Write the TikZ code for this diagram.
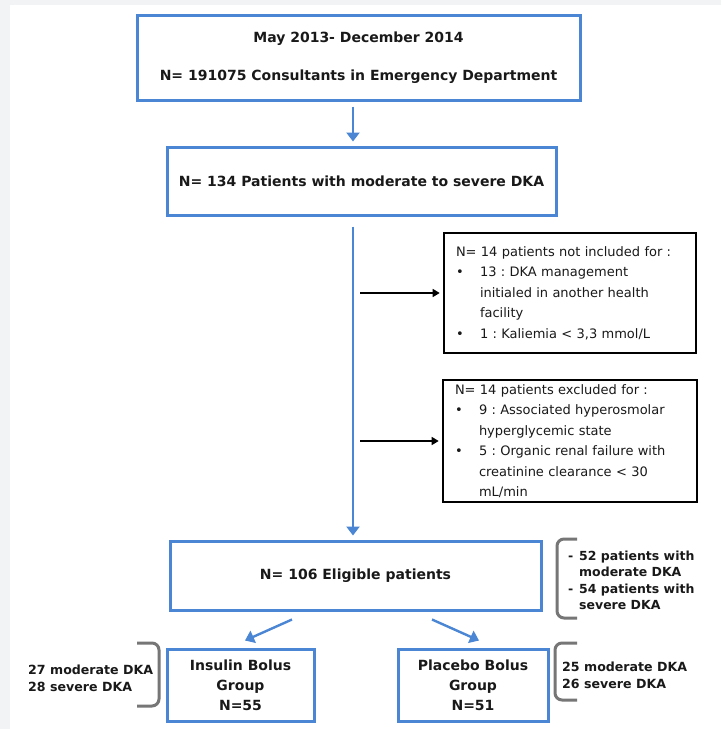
\documentclass[tikz,border=0pt]{standalone}
\usepackage{fontspec}
\setmainfont{DejaVu Sans}
\usetikzlibrary{positioning,arrows.meta}
\definecolor{flowblue}{RGB}{74,134,212}
\definecolor{bracegray}{RGB}{118,118,118}
\definecolor{pagegray}{RGB}{242,243,245}
\definecolor{inktext}{RGB}{25,25,25}
\frenchspacing

\tikzset{
  bluebox/.style={draw=flowblue, line width=3pt, align=center, text=inktext,
    font=\bfseries\fontsize{14}{20}\selectfont, inner sep=0pt},
  blackbox/.style={draw=black, line width=2.6pt, align=left, text=inktext,
    font=\fontsize{13}{20.5}\selectfont, inner xsep=12pt, inner ysep=0pt},
  bluearrow/.style={draw=flowblue, line width=2.4pt, -{Triangle[length=9pt,width=13pt]}},
  blackarrow/.style={draw=black, line width=1.5pt, -{Triangle[length=7pt,width=8pt]}},
  bracket/.style={draw=bracegray, line width=3pt, rounded corners=7pt},
  sidetext/.style={font=\bfseries\fontsize{12.5}{16.5}\selectfont, text=inktext,
    align=left, inner sep=0pt, anchor=west},
}
\newcommand{\bul}{\makebox[24pt][l]{\textbullet}}
\newcommand{\ind}{\hspace*{24pt}}

\begin{document}
\begin{tikzpicture}[x=1pt,y=-1pt]
	\useasboundingbox (0,0) rectangle (721,729);
	% page background
	\fill[pagegray] (0,0) rectangle (721,729);
	\fill[white] (10,5) rectangle (721,729);
	% Define nodes
	\coordinate (spine) at (353,0);
	\node[bluebox, minimum width=443pt, minimum height=85pt] (cons) at (358.5,57.5)
		{May 2013- December 2014\\[18pt] N= 191075 Consultants in Emergency Department};
	\node[bluebox, minimum width=389pt, minimum height=68pt] (dka) at (361.5,181)
		{N= 134 Patients with moderate to severe DKA};
	\node[blackbox, text width=228pt, minimum height=120pt] (notinc) at (570,293)
		{N= 14 patients not included for :\\
		 \bul 13 : DKA management\\
		 \ind initialed in another health\\
		 \ind facility\\
		 \bul 1 : Kaliemia < 3,3 mmol/L};
	\node[blackbox, text width=230pt, minimum height=122pt] (excl) at (570,441)
		{N= 14 patients excluded for :\\
		 \bul 9 : Associated hyperosmolar\\
		 \ind hyperglycemic state\\
		 \bul 5 : Organic renal failure with\\
		 \ind creatinine clearance < 30\\
		 \ind mL/min};
	\node[bluebox, minimum width=371pt, minimum height=69pt] (elig) at (355.5,575.5)
		{N= 106 Eligible patients};
	\node[bluebox, minimum width=147pt, minimum height=72pt] (insulin) at (240.5,685)
		{Insulin Bolus\\ Group\\ N=55};
	\node[bluebox, minimum width=150pt, minimum height=72pt] (placebo) at (473,685)
		{Placebo Bolus\\ Group\\ N=51};
	% side notes
	\node[sidetext] (eligtxt) at (568,580.5)
		{\makebox[11pt][l]{-}52 patients with\\
		 \hspace*{11pt}moderate DKA\\
		 \makebox[11pt][l]{-}54 patients with\\
		 \hspace*{11pt}severe DKA};
	\node[sidetext, font=\bfseries\fontsize{12.6}{17}\selectfont] (instxt) at (28,678)
		{27 moderate DKA\\ 28 severe DKA};
	\node[sidetext, font=\bfseries\fontsize{12.6}{17}\selectfont] (platxt) at (562,675)
		{25 moderate DKA\\ 26 severe DKA};
	% Edges
	\draw[bluearrow] ([yshift=-5pt]cons.south -| spine) -- ([yshift=4pt]dka.north -| spine);
	\draw[bluearrow] ([yshift=-10pt]dka.south -| spine) -- ([yshift=4pt]elig.north -| spine);
	\draw[blackarrow] ([xshift=7pt]spine |- notinc.west) -- ([xshift=-3pt]notinc.west);
	\draw[blackarrow] ([xshift=7pt]spine |- excl.west) -- ([xshift=-3pt]excl.west);
	\draw[bluearrow] ([xshift=-63.5pt,yshift=-8pt]elig.south) -- ([xshift=4.5pt,yshift=7pt]insulin.north);
	\draw[bluearrow] ([xshift=76.5pt,yshift=-8pt]elig.south) -- ([xshift=6pt,yshift=7pt]placebo.north);
	% Brackets
	\draw[bracket] (577,539) -- (557,539) -- (557,618) -- (577,618);
	\draw[bracket] (137,643) -- (159,643) -- (159,706) -- (137,706);
	\draw[bracket] (577,643) -- (555,643) -- (555,700) -- (577,700);
\end{tikzpicture}
\end{document}
